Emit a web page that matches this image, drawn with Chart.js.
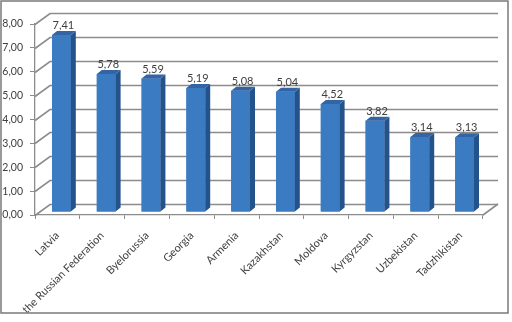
<!DOCTYPE html>
<html>
<head>
<meta charset="utf-8">
<script src="https://cdn.jsdelivr.net/npm/chart.js@4"></script>
<style>
  html, body { margin: 0; padding: 0; background: #fff; }
  #wrap { width: 512px; height: 322px; position: relative; }
</style>
</head>
<body>
<div id="wrap"><canvas id="barChart"></canvas></div>
<script>
"use strict"

// data
const countries = ["Latvia", "the Russian Federation", "Byelorussia", "Georgia", "Armenia",
    "Kazakhstan", "Moldova", "Kyrgyzstan", "Uzbekistan", "Tadzhikistan"];
const values = [7.41, 5.78, 5.59, 5.19, 5.08, 5.04, 4.52, 3.82, 3.14, 3.13];
const yTicks = [0, 1, 2, 3, 4, 5, 6, 7, 8];

const textColor = "#404040";
const gridColor = "#8c8c8c";
const depthX = 15, depthY = -11;   // back wall offset
const barShift = [4, -3];          // bars sit half way in depth
const barDepth = [5, -4];
const fontFam = "Lato, 'Liberation Sans', sans-serif";

function fmt(v) {
    return v.toFixed(2).replace(".", ",");
}

// 3D look: back wall and floor first, then bars with side, top and value label
const threeD = {
    id: "threeD",
    beforeDatasetsDraw(chart) {
        chart.ctx.save();
        chart.ctx.translate(barShift[0], barShift[1]);
    },
    afterDatasetsDraw(chart) {
        chart.ctx.restore();
    },
    afterDraw(chart) {
        const c = chart.ctx;
        const sy = chart.scales.y;
        const a = chart.chartArea;
        c.save();
        // outer frame
        c.strokeStyle = "#7a7a7a";
        c.lineWidth = 1.5;
        c.strokeRect(1, 1, 507, 312);

        // back wall gridlines and floor
        c.strokeStyle = gridColor;
        c.lineWidth = 1.6;
        for (let k = 0; k < yTicks.length; k++) {
            const py = Math.round(sy.getPixelForValue(yTicks[k])) + 0.5;
            c.beginPath();
            c.moveTo(a.left, py);
            c.lineTo(a.left + depthX, py + depthY);
            c.lineTo(a.right + depthX, py + depthY);
            c.stroke();
        }
        c.beginPath();
        c.moveTo(a.right, a.bottom);
        c.lineTo(a.right + depthX, a.bottom + depthY);
        c.stroke();

        // bars again on top of the wall
        c.translate(barShift[0], barShift[1]);
        const meta = chart.getDatasetMeta(0);
        meta.data.forEach((bar, i) => {
            bar.draw(c);
            const half = bar.width / 2;
            const r = bar.x + half, l = bar.x - half;
            const t = bar.y, b = bar.base;
            // side
            c.fillStyle = "#24528b";
            c.beginPath();
            c.moveTo(r, t);
            c.lineTo(r + barDepth[0], t + barDepth[1]);
            c.lineTo(r + barDepth[0], b + barDepth[1]);
            c.lineTo(r, b);
            c.closePath();
            c.fill();
            // top
            c.fillStyle = "#3365a5";
            c.beginPath();
            c.moveTo(l, t);
            c.lineTo(l + barDepth[0], t + barDepth[1]);
            c.lineTo(r + barDepth[0], t + barDepth[1]);
            c.lineTo(r, t);
            c.closePath();
            c.fill();
            // value label
            c.fillStyle = textColor;
            c.font = "11px " + fontFam;
            c.textAlign = "center";
            c.textBaseline = "bottom";
            c.fillText(fmt(values[i]), bar.x + 2, t - 4);
        });
        c.restore();
    }
};

const ctx = document.getElementById("barChart").getContext("2d");

new Chart(ctx, {
    type: "bar",
    data: {
        labels: countries,
        datasets: [{
            data: values,
            backgroundColor: "#3b7bc1",
            borderWidth: 0,
            barPercentage: 0.42,
            categoryPercentage: 1
        }]
    },
    options: {
        responsive: true,
        maintainAspectRatio: false,
        animation: false,
        layout: { padding: { left: 0, top: 24, right: 29, bottom: 0 } },
        plugins: {
            legend: { display: false },
            tooltip: { enabled: false }
        },
        scales: {
            x: {
                afterFit(scale) { scale.height = 107; },
                grid: { display: true, drawOnChartArea: false, offset: true, tickLength: 4, color: gridColor },
                border: { color: gridColor, width: 1.3 },
                ticks: {
                    color: textColor,
                    font: { family: fontFam, size: 11 },
                    minRotation: 45,
                    maxRotation: 45,
                    autoSkip: false,
                    padding: 10
                }
            },
            y: {
                min: 0,
                max: 8,
                afterFit(scale) { scale.width = 35; },
                grid: { display: true, drawOnChartArea: false, tickLength: 5, color: gridColor },
                border: { color: gridColor, width: 1.3 },
                ticks: {
                    stepSize: 1,
                    color: textColor,
                    font: { family: fontFam, size: 10.5 },
                    padding: 7,
                    callback: v => fmt(v)
                }
            }
        }
    },
    plugins: [threeD]
});
</script>
</body>
</html>
